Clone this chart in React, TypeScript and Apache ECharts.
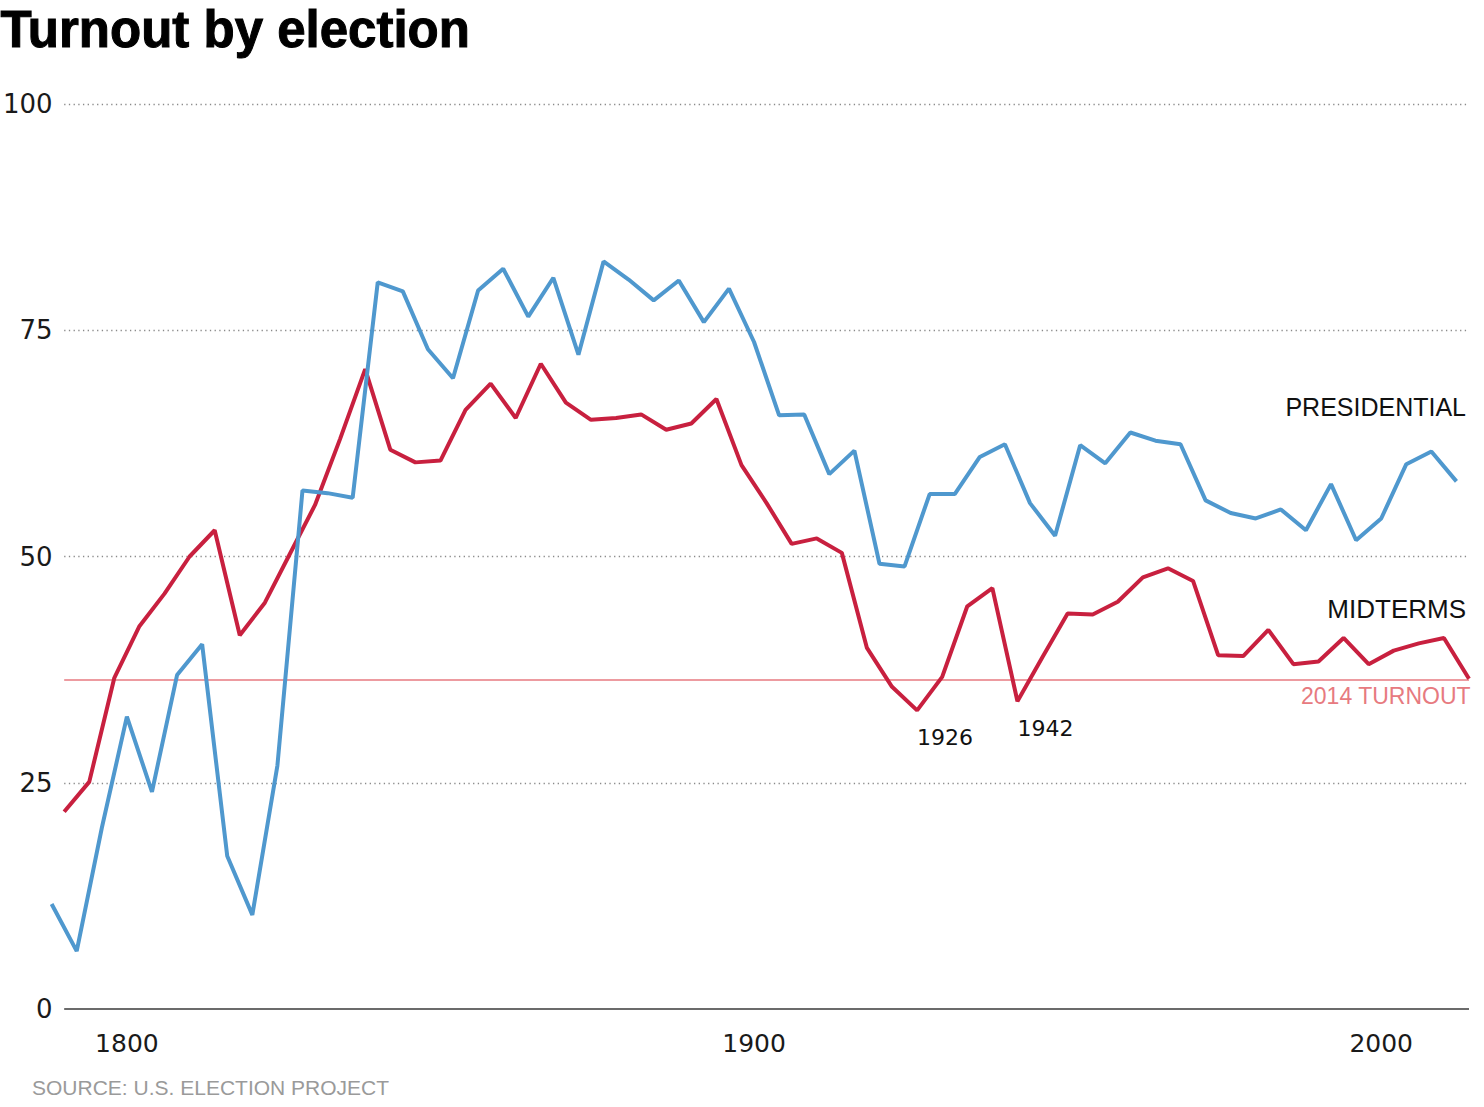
import React, { useEffect, useRef } from "react";
import * as echarts from "echarts";

// Presidential election years and turnout (%)
const presYears = [
  1788, 1792, 1796, 1800, 1804, 1808, 1812, 1816, 1820, 1824, 1828, 1832, 1836,
  1840, 1844, 1848, 1852, 1856, 1860, 1864, 1868, 1872, 1876, 1880, 1884, 1888,
  1892, 1896, 1900, 1904, 1908, 1912, 1916, 1920, 1924, 1928, 1932, 1936, 1940,
  1944, 1948, 1952, 1956, 1960, 1964, 1968, 1972, 1976, 1980, 1984, 1988, 1992,
  1996, 2000, 2004, 2008, 2012,
];
const presTurnout = [
  11.6, 6.4, 20.0, 32.3, 24.0, 36.9, 40.3, 16.9, 10.4, 26.9, 57.3, 57.0, 56.5,
  80.3, 79.3, 72.9, 69.7, 79.4, 81.8, 76.5, 80.8, 72.3, 82.6, 80.6, 78.3, 80.5,
  75.9, 79.6, 73.7, 65.6, 65.7, 59.1, 61.7, 49.2, 48.9, 56.9, 56.9, 61.0, 62.4,
  55.9, 52.3, 62.3, 60.3, 63.7, 62.8, 62.4, 56.2, 54.8, 54.2, 55.2, 52.9, 58.0,
  51.8, 54.2, 60.2, 61.6, 58.3,
];

// Midterm election years and turnout (%)
const midYears = [
  1790, 1794, 1798, 1802, 1806, 1810, 1814, 1818, 1822, 1826, 1830, 1834, 1838,
  1842, 1846, 1850, 1854, 1858, 1862, 1866, 1870, 1874, 1878, 1882, 1886, 1890,
  1894, 1898, 1902, 1906, 1910, 1914, 1918, 1922, 1926, 1930, 1934, 1938, 1942,
  1946, 1950, 1954, 1958, 1962, 1966, 1970, 1974, 1978, 1982, 1986, 1990, 1994,
  1998, 2002, 2006, 2010, 2014,
];
const midTurnout = [
  21.8, 25.1, 36.6, 42.3, 45.9, 50.0, 52.9, 41.3, 44.9, 50.3, 55.7, 63.0, 70.7,
  61.8, 60.4, 60.6, 66.2, 69.1, 65.3, 71.3, 67.0, 65.1, 65.3, 65.7, 64.0, 64.7,
  67.4, 60.1, 55.9, 51.4, 52.0, 50.4, 39.9, 35.6, 33.0, 36.7, 44.5, 46.5, 34.0,
  38.9, 43.7, 43.6, 45.0, 47.7, 48.7, 47.3, 39.1, 39.0, 41.9, 38.1, 38.4, 41.0,
  38.1, 39.6, 40.4, 41.0, 36.5,
];

const xTickYears = [1800, 1900, 2000];
const yGridValues = [25, 50, 75, 100];
const gridStartYear = 1790;
const gridEndYear = 2014;
const turnout2014 = 36.4;
const annotatedYears = [1926, 1942];

const BLUE = "#4f98ce";
const RED = "#c8203f";
const PINK = "#e77a80";

export default function App() {
  const ref = useRef<HTMLDivElement>(null);

  useEffect(() => {
    const chart = echarts.init(ref.current as HTMLDivElement, null, { renderer: "svg" });
    const pres = presYears.map((y, i) => [y, presTurnout[i]]);
    const mid = midYears.map((y, i) => [y, midTurnout[i]]);

    const gridLines = yGridValues.map((v) => [
      { coord: [gridStartYear, v], lineStyle: { color: "#8a8a8a", width: 1.3, type: [1.3, 3.4] }, label: { show: false } },
      { coord: [gridEndYear, v] },
    ]);
    const baseLine = [
      { coord: [gridStartYear, 0], lineStyle: { color: "#6b6b6b", width: 2, type: "solid" }, label: { show: false } },
      { coord: [gridEndYear, 0] },
    ];
    const turnoutLine = [
      { coord: [gridStartYear, turnout2014], lineStyle: { color: PINK, width: 1.5, type: "solid" }, label: { show: false } },
      { coord: [gridEndYear, turnout2014] },
    ];

    const option = {
      animation: false,
      backgroundColor: "#ffffff",
      grid: { left: 47, right: 15, top: 104, bottom: 98, containLabel: false },
      xAxis: {
        type: "value",
        min: 1788,
        max: 2014,
        axisLine: { show: false },
        axisTick: { show: false },
        splitLine: { show: false },
        axisLabel: {
          customValues: xTickYears,
          formatter: (v: number) => String(v),
          fontSize: 25,
          color: "#1a1a1a",
          margin: 22,
          fontFamily: "DejaVu Sans",
        },
      },
      yAxis: {
        type: "value",
        min: 0,
        max: 100,
        interval: 25,
        axisLine: { show: false },
        axisTick: { show: false },
        splitLine: { show: false },
        axisLabel: {
          fontSize: 26,
          color: "#1a1a1a",
          margin: -1,
          fontFamily: "DejaVu Sans",
        },
      },
      series: [
        {
          name: "Midterms",
          type: "line",
          data: mid,
          symbol: "none",
          z: 3,
          lineStyle: { color: RED, width: 4 },
          itemStyle: { color: RED },
          markLine: {
            silent: true,
            symbol: ["none", "none"],
            z: 1,
            data: [...gridLines, baseLine, turnoutLine],
            label: { show: false },
          },
          markPoint: {
            symbol: "circle",
            symbolSize: 1,
            itemStyle: { color: "rgba(0,0,0,0)" },
            data: annotatedYears.map((y) => ({
              coord: [y, midTurnout[midYears.indexOf(y)]],
              value: y,
            })),
            label: {
              show: true,
              formatter: "{c}",
              position: "bottom",
              distance: 16,
              align: "left",
              fontSize: 22,
              color: "#111111",
              fontFamily: "DejaVu Sans",
            },
          },
        },
        {
          name: "Presidential",
          type: "line",
          data: pres,
          symbol: "none",
          z: 4,
          lineStyle: { color: BLUE, width: 4 },
          itemStyle: { color: BLUE },
        },
      ],
      graphic: [
        {
          type: "text",
          left: 0,
          top: 3,
          style: {
            text: "Turnout by election",
            fontSize: 51,
            fontWeight: "bold",
            fontFamily: "Liberation Sans",
            fill: "#000000",
            stroke: "#000000",
            lineWidth: 1,
          },
        },
        {
          type: "text",
          right: 18,
          top: 394,
          style: {
            text: "PRESIDENTIAL",
            fontSize: 25,
            fontFamily: "Liberation Sans",
            fill: "#111111",
          },
        },
        {
          type: "text",
          right: 18,
          top: 596,
          style: {
            text: "MIDTERMS",
            fontSize: 26,
            fontFamily: "Liberation Sans",
            fill: "#111111",
          },
        },
        {
          type: "text",
          right: 13,
          top: 684,
          style: {
            text: "2014 TURNOUT",
            fontSize: 23,
            fontFamily: "Liberation Sans",
            fill: PINK,
          },
        },
        {
          type: "text",
          left: 32,
          top: 1077,
          style: {
            text: "SOURCE: U.S. ELECTION PROJECT",
            fontSize: 21,
            fontFamily: "Liberation Sans",
            fill: "#9a9a9a",
          },
        },
      ],
    };

    chart.setOption(option as any);
    return () => chart.dispose();
  }, []);

  return (
    <div
      ref={ref}
      style={{ position: "fixed", left: 0, top: 0, width: 1484, height: 1107 }}
    />
  );
}
